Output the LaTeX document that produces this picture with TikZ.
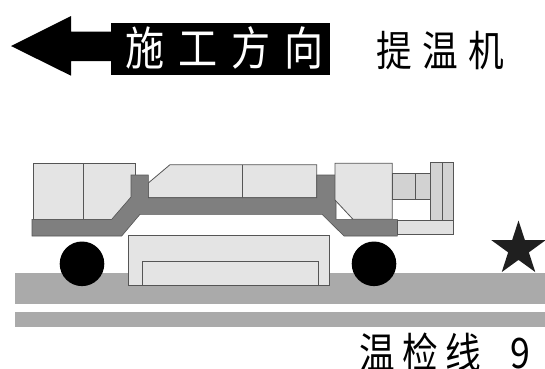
\documentclass[tikz,border=0pt]{standalone}
\usepackage{fontspec}
\usepackage{tikz}
\usetikzlibrary{shapes.geometric}

\newfontfamily\cjk[FakeStretch=0.85]{Noto Sans CJK SC}

\definecolor{panel}{HTML}{E4E4E4}
\definecolor{modfill}{HTML}{D2D2D2}
\definecolor{framegray}{HTML}{7F7F7F}
\definecolor{railgray}{HTML}{AAAAAA}
\definecolor{edge}{HTML}{555555}

\begin{document}
\begin{tikzpicture}[
    x=1pt, y=-1pt,
    body/.style={
      fill=panel,
      draw=edge,
      line width=0.8pt
    },
    module/.style={
      fill=modfill,
      draw=edge,
      line width=0.8pt
    },
    chassis/.style={
      fill=framegray,
      draw=edge,
      line width=0.6pt
    },
    rail/.style={
      fill=railgray
    },
    wheel/.style={
      circle,
      fill=black,
      minimum size=44.6pt,
      inner sep=0pt
    },
    title/.style={
      font=\cjk\fontsize{42}{42}\selectfont,
      inner sep=0pt,
      anchor=west
    }
  ]

    \useasboundingbox (0,0) rectangle (545,368);

    % Direction tag with block arrow
    \node[fill=black, minimum width=219pt, minimum height=52pt, inner sep=0pt,
      anchor=north west] (dirbox) at (111,22.3) {};
    \node[title, text=white, font=\cjk\fontsize{46}{46}\selectfont]
      (dir) at (125,48.2) {施\hspace{14pt}工\hspace{14pt}方\hspace{14pt}向};
    \fill[black] (dirbox.west |- 0,31.7) -- (71,31.7) -- (71,16)
      -- (11,46) -- (71,75.7) -- (71,61) -- (dirbox.west |- 0,61) -- cycle;

    \node[title] (machine) at (376.5,50.5) {提\hspace{10pt}温\hspace{10pt}机};

    % Track
    \fill[rail] (15,272.7) rectangle (545,304);
    \fill[rail] (15,311.7) rectangle (545,327.3);

    % Lower box between the wheels
    \draw[body] (128.3,235.7) rectangle (329.3,285);
    \draw[body] (142.7,261) rectangle (318.3,285);

    % Wheels
    \node[wheel] (frontwheel) at (82,263.8) {};
    \node[wheel] (rearwheel) at (374,263.8) {};

    % Cab on the left
    \draw[body] (33,163) rectangle (135,219.3);
    \draw[edge, line width=0.8pt] (83,163) -- (83,219.3);

    % Middle housing
    \draw[body] (148.3,197.7) -- (148.3,183) -- (170,164.7) -- (316.7,164.7)
      -- (316.7,197.7) -- cycle;
    \draw[edge, line width=0.8pt] (242.3,164.7) -- (242.3,197.7);

    % Main frame
    \draw[chassis] (32,219.3) -- (111.7,219.3) -- (131,197) -- (131,175)
      -- (148.3,175) -- (148.3,197.7) -- (316.7,197.7) -- (316.7,175)
      -- (336,175) -- (336,219.3) -- (397.3,219.3) -- (397.3,236)
      -- (344,236) -- (322,214.3) -- (140,214.3) -- (121.7,236)
      -- (32,236) -- cycle;

    % Rear housing with chamfered corner
    \draw[body] (335,163.3) -- (392.3,163.3) -- (392.3,219.3) -- (353,219.3)
      -- (335,200) -- cycle;

    % Heating unit at the rear
    \draw[module] (392.3,173.3) rectangle (430,199);
    \draw[edge, line width=0.8pt] (415,173.3) -- (415,199);
    \draw[module] (430,162.7) rectangle (453.3,220);
    \draw[edge, line width=0.8pt] (442.3,162.7) -- (442.3,220);
    \draw[module, fill=panel!85!modfill] (397.3,220) rectangle (453.3,234.3);

    % Start mark
    \node[star, star points=5, star point ratio=2.618, fill=black!88,
      minimum size=57pt, inner sep=0pt] (startmark) at (518.5,249) {};

    \node[title] (track) at (359.5,352) {温\hspace{7pt}检\hspace{7pt}线\hspace{30pt}9};

  \end{tikzpicture}
\end{document}
